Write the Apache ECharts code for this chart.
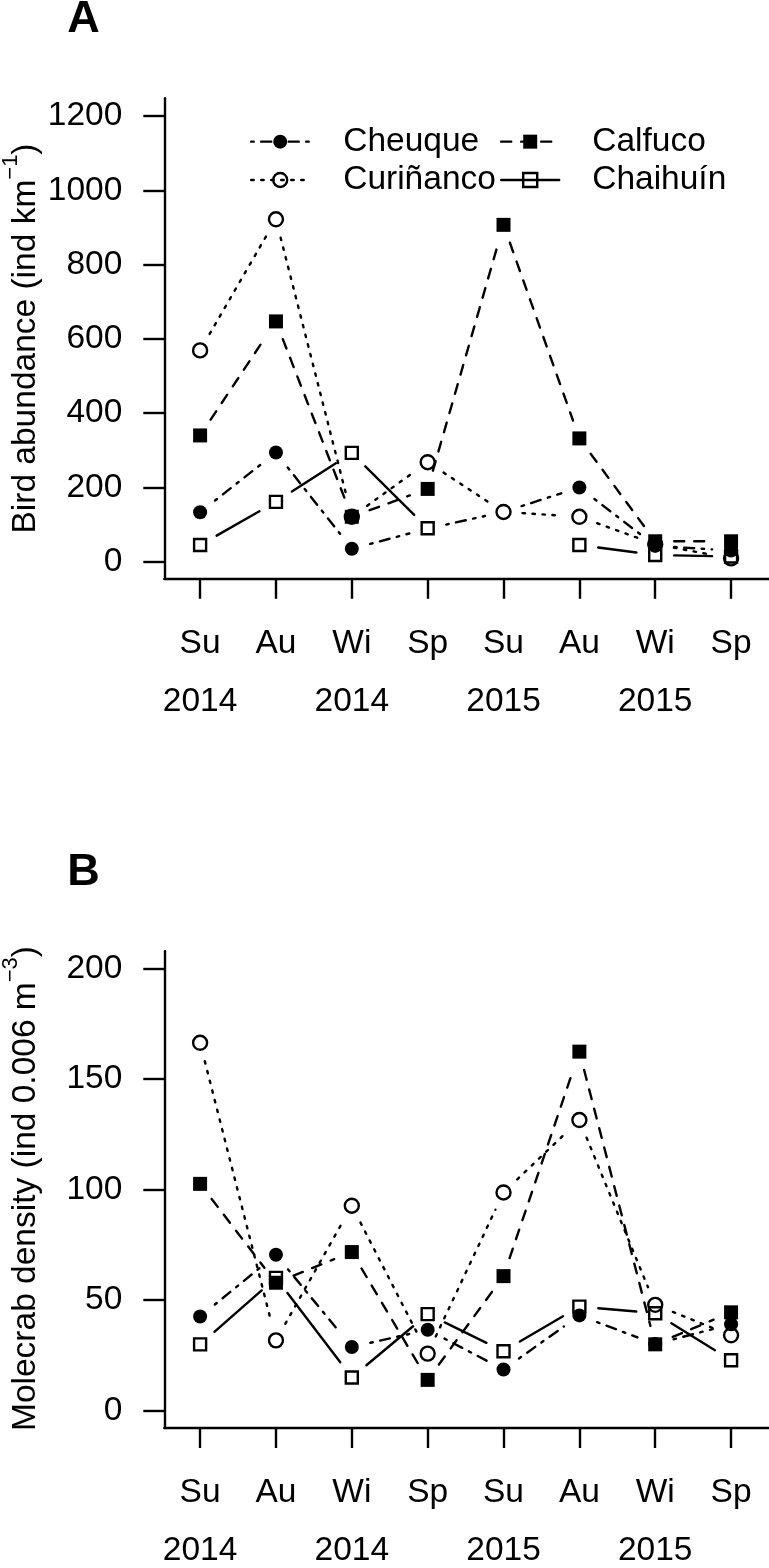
<!DOCTYPE html>
<html><head><meta charset="utf-8">
<script src="https://cdn.jsdelivr.net/npm/echarts@6/dist/echarts.min.js"></script>
<style>html,body{margin:0;padding:0;background:#fff}#c{width:769px;height:1568px}</style>
</head><body><div id="c"></div>
<script>
// ---- data ----
const seasons = ['Su','Au','Wi','Sp','Su','Au','Wi','Sp'];
const years = ['2014','','2014','','2015','','2015',''];
const yTicksA = [0,200,400,600,800,1000,1200];
const yTicksB = [0,50,100,150,200];
const names = ['Cheuque','Curiñanco','Calfuco','Chaihuín'];
const cheuqueA   = [133, 294, 35, 89, 134, 200, 43, 30];
const curinancoA = [569, 922, 121, 268, 134, 121, 47, 9];
const calfucoA   = [340, 647, 121, 196, 907, 332, 55, 55];
const chaihuinA  = [45, 161, 293, 90, null, 45, 18, 14];
const cheuqueB   = [42.5, 70.5, 28.7, 36.5, 18.5, 43, 30, 39];
const curinancoB = [166.5, 31.7, 92.7, 25.7, 98.7, 131.5, 47.8, 34];
const calfucoB   = [102.6, 57.8, 71.7, 13.8, 60.8, 162.5, 29.9, 44.4];
const chaihuinB  = [29.9, 60, 14.9, 43.6, 26.8, 47, 44, 22.7];
const cheuqueAUnmarked = [3, 4]; // points on the line without a visible symbol

// ---- styles ----
const FONT = '"Liberation Sans", Arial, Helvetica, sans-serif';
const FS = 33.5;
const LW = 2.4;
const GAP = 19;
const sty = {
  'Cheuque':   {symbol:'circle', size:14, open:false, dash:[2.5,7.5,10,7.5]},
  'Curiñanco': {symbol:'circle', size:14, open:true,  dash:[2.5,7.5]},
  'Calfuco':   {symbol:'rect',   size:14, open:false, dash:[10,10]},
  'Chaihuín':  {symbol:'rect',   size:12, open:true,  dash:null}
};
function itemStyleOf(s){
  return s.open ? {color:'rgba(0,0,0,0)', borderColor:'#000', borderWidth:LW}
                : {color:'#000', borderWidth:0};
}
const panels = [
  {grid:{left:164.3, top:98.2, width:604.7, height:480.6}, min:-46, max:1248, ticks:yTicksA,
   series:{'Cheuque':cheuqueA,'Curiñanco':curinancoA,'Calfuco':calfucoA,'Chaihuín':chaihuinA},
   unmarked:{'Cheuque':cheuqueAUnmarked}},
  {grid:{left:164.3, top:951.2, width:604.7, height:480.6}, min:-8, max:208, ticks:yTicksB,
   series:{'Cheuque':cheuqueB,'Curiñanco':curinancoB,'Calfuco':calfucoB,'Chaihuín':chaihuinB},
   unmarked:{}}
];
const xPos = seasons.map((s,i)=>i+1);
const axisLineStyle = {color:'#000', width:LW};
const labelBase = {color:'#000', fontSize:FS, fontFamily:FONT};

const grid=[], xAxis=[], yAxis=[], series=[];
panels.forEach((p,gi)=>{
  grid.push(p.grid);
  xAxis.push({type:'value', gridIndex:gi, min:0.528, max:8.5,
    axisLine:{show:true, onZero:false, lineStyle:axisLineStyle},
    axisTick:{show:true, inside:false, length:20, customValues:xPos, lineStyle:axisLineStyle},
    axisLabel:Object.assign({customValues:xPos, margin:48, formatter:v=>seasons[Math.round(v)-1]}, labelBase),
    splitLine:{show:false}});
  xAxis.push({type:'value', gridIndex:gi, min:0.528, max:8.5, position:'bottom',
    axisLine:{show:false}, axisTick:{show:false}, splitLine:{show:false},
    axisLabel:Object.assign({customValues:[1,3,5,7], margin:106, formatter:v=>years[Math.round(v)-1]}, labelBase)});
  yAxis.push({type:'value', gridIndex:gi, min:p.min, max:p.max,
    axisLine:{show:true, onZero:false, lineStyle:axisLineStyle},
    axisTick:{show:true, inside:false, length:21, customValues:p.ticks, lineStyle:axisLineStyle},
    axisLabel:Object.assign({customValues:p.ticks, margin:42, formatter:v=>String(v)}, labelBase),
    splitLine:{show:false}});
  names.forEach(n=>{
    const s = sty[n], vals = p.series[n], hide = p.unmarked[n] || [];
    const segs = [];
    for (let i=0;i<vals.length-1;i++){
      if (vals[i]!=null && vals[i+1]!=null) segs.push([i+1, vals[i], i+2, vals[i+1]]);
    }
    series.push({type:'custom', name:n+'_line', xAxisIndex:gi*2, yAxisIndex:gi, silent:true, z:2,
      encode:{x:[0,2], y:[1,3]}, data:segs,
      renderItem:(params, api)=>{
        const p0 = api.coord([api.value(0), api.value(1)]);
        const p1 = api.coord([api.value(2), api.value(3)]);
        const dx=p1[0]-p0[0], dy=p1[1]-p0[1], L=Math.hypot(dx,dy);
        if (L <= 2*GAP) return null;
        const ux=dx/L, uy=dy/L;
        return {type:'line', shape:{x1:p0[0]+ux*GAP, y1:p0[1]+uy*GAP, x2:p1[0]-ux*GAP, y2:p1[1]-uy*GAP},
          style:{stroke:'#000', lineWidth:LW, lineDash:s.dash, lineCap:'round'}};
      }});
    const pts = vals.map((v,i)=>[i+1,v]).filter((d,i)=>d[1]!=null && hide.indexOf(i)<0);
    series.push({type:'line', name:n, xAxisIndex:gi*2, yAxisIndex:gi, silent:true, z:3,
      data:pts, symbol:s.symbol, symbolSize:s.size, showSymbol:true,
      lineStyle:{opacity:0, width:0}, itemStyle:itemStyleOf(s), emphasis:{disabled:true}});
  });
});

function legendItem(n){
  const s = sty[n];
  return {name:n, itemStyle:itemStyleOf(s),
    lineStyle:{color:'#000', width:LW, type:s.dash?s.dash:'solid', opacity:1, cap:'round'}};
}
const legendCommon = {orient:'vertical', top:122.5, padding:0, itemGap:0, itemWidth:58, itemHeight:17.5,
  selectedMode:false, inactiveColor:'#000'};
const legend = [
  Object.assign({left:250, data:['Cheuque','Curiñanco'].map(legendItem),
    textStyle:{fontSize:FS, fontFamily:FONT, color:'#000', lineHeight:38.3, padding:[0,0,0,29]}}, legendCommon),
  Object.assign({left:500, data:['Calfuco','Chaihuín'].map(legendItem),
    textStyle:{fontSize:FS, fontFamily:FONT, color:'#000', lineHeight:38.3, padding:[0,0,0,28]}}, legendCommon)
];

function yTitle(y, main, sup, tail){
  return {type:'text', x:25.5, y:y, rotation:Math.PI/2, silent:true,
    style:{text:'{n|'+main+'}{s|'+sup+'}{n|'+tail+'}', align:'center', verticalAlign:'middle', fill:'#000',
      rich:{n:{fontSize:FS, fontFamily:FONT, lineHeight:52, fill:'#000'},
            s:{fontSize:22, fontFamily:FONT, lineHeight:22, verticalAlign:'top', fill:'#000'}}}};
}
const graphic = [
  {type:'text', x:83.5, y:19.7, silent:true, style:{text:'A', font:'bold 45px '+FONT, align:'center', verticalAlign:'middle', fill:'#000'}},
  {type:'text', x:83.5, y:872.7, silent:true, style:{text:'B', font:'bold 45px '+FONT, align:'center', verticalAlign:'middle', fill:'#000'}},
  yTitle(338.5, 'Bird abundance (ind km', '−1', ')'),
  yTitle(1188.5, 'Molecrab density (ind 0.006 m', '−3', ')')
];

const chart = echarts.init(document.getElementById('c'), null, {renderer:'canvas'});
chart.setOption({animation:false, backgroundColor:'#fff', grid, xAxis, yAxis, series, legend, graphic});
</script></body></html>
